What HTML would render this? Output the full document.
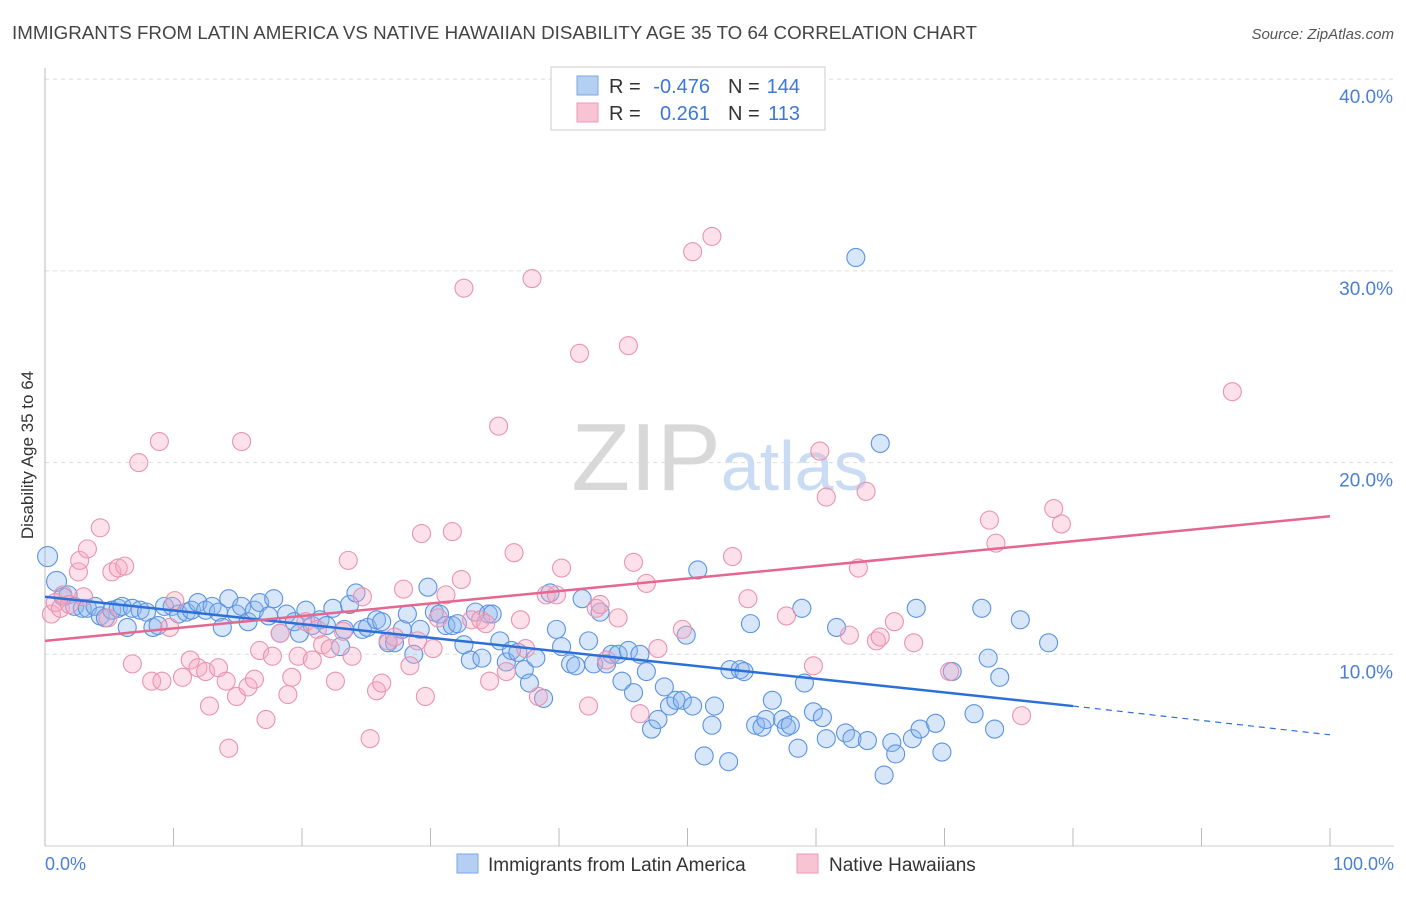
<!DOCTYPE html>
<html><head><meta charset="utf-8"><style>
body{margin:0;background:#fff;font-family:"Liberation Sans",sans-serif;}
svg text{font-family:"Liberation Sans",sans-serif;}
</style></head><body>
<svg id="chart" width="1406" height="892" viewBox="0 0 1406 892" xmlns="http://www.w3.org/2000/svg">
<text x="12" y="39" font-size="18" fill="#444" textLength="965" lengthAdjust="spacingAndGlyphs">IMMIGRANTS FROM LATIN AMERICA VS NATIVE HAWAIIAN DISABILITY AGE 35 TO 64 CORRELATION CHART</text>
<text x="1394" y="39" font-size="15" fill="#555" text-anchor="end" font-style="italic">Source: ZipAtlas.com</text>
<g id="grid"></g>
<text x="720" y="490" font-size="96" text-anchor="middle" fill="#ddd" font-family="Liberation Serif"><tspan fill="#d8d8d8">ZIP</tspan><tspan fill="#c9dcf3" font-family="Liberation Sans" font-size="70">atlas</tspan></text>
<line x1="45" y1="68" x2="45" y2="846" stroke="#bbb"/>
<line x1="45" y1="846" x2="1394" y2="846" stroke="#ccc"/>
<g id="ticks"></g>
<g id="pts"></g>
<g id="trends"></g>
<text transform="translate(33,455) rotate(-90)" font-size="17" fill="#333" text-anchor="middle">Disability Age 35 to 64</text>
<text x="45" y="870" font-size="18" fill="#4a7fd6">0.0%</text>
<text x="1394" y="870" font-size="18" fill="#4a7fd6" text-anchor="end">100.0%</text>
<g>
<rect x="551" y="67" width="274" height="63" fill="#fff" stroke="#ccc"/>
<rect x="577" y="76" width="21" height="19" fill="#b5cff3" stroke="#7aa6e4"/>
<rect x="577" y="103" width="21" height="19" fill="#f8c3d2" stroke="#ec9ab3"/>
<text x="609" y="93" font-size="20" fill="#333">R =</text>
<text x="710" y="93" font-size="20" fill="#3b78d8" text-anchor="end">-0.476</text>
<text x="728" y="93" font-size="20" fill="#333">N =</text>
<text x="800" y="93" font-size="20" fill="#3b78d8" text-anchor="end">144</text>
<text x="609" y="120" font-size="20" fill="#333">R =</text>
<text x="710" y="120" font-size="20" fill="#3b78d8" text-anchor="end">0.261</text>
<text x="728" y="120" font-size="20" fill="#333">N =</text>
<text x="800" y="120" font-size="20" fill="#3b78d8" text-anchor="end">113</text>
</g>
<g>
<rect x="457" y="854" width="21" height="19" fill="#b5cff3" stroke="#7aa6e4"/>
<text x="488" y="871" font-size="19" fill="#333">Immigrants from Latin America</text>
<rect x="797" y="854" width="21" height="19" fill="#f8c3d2" stroke="#ec9ab3"/>
<text x="829" y="871" font-size="19" fill="#333">Native Hawaiians</text>
</g>
</svg>
<script>
const yTicks=[10,20,30,40];
const yTickLabels=["10.0%","20.0%","30.0%","40.0%"];
const xTicks=[0,10,20,30,40,50,60,70,80,90,100];
const blueX=[0.2,0.9,1.4,1.8,2.3,2.9,3.3,3.9,4.3,4.7,5.2,5.7,6.0,6.4,6.8,7.4,7.9,8.4,8.8,9.3,9.9,10.4,11.0,11.4,11.9,12.5,13.0,13.5,13.8,14.3,14.9,15.3,15.8,16.3,16.7,17.4,17.8,18.3,18.8,19.4,19.8,20.3,20.8,21.4,21.9,22.4,23.0,23.3,23.7,24.2,24.7,25.1,25.8,26.2,26.7,27.2,27.8,28.2,28.7,29.2,29.8,30.3,30.7,31.2,31.7,32.1,32.6,33.1,33.5,34.0,34.5,34.8,35.4,35.9,36.3,36.8,37.3,37.7,38.2,38.8,39.3,39.8,40.2,40.9,41.3,41.8,42.3,42.7,43.2,43.7,44.1,44.6,44.9,45.4,45.8,46.3,46.8,47.2,47.7,48.2,48.6,49.1,49.6,49.9,50.4,50.8,51.3,51.9,52.1,53.2,53.3,54.1,54.4,54.9,55.3,55.8,56.1,56.6,57.4,57.7,58.0,58.6,58.9,59.1,59.8,60.5,60.8,61.6,62.3,62.8,63.1,64.0,65.0,65.3,65.9,66.2,67.5,67.8,68.1,69.3,69.8,70.6,72.3,72.9,73.4,73.9,74.3,75.9,78.1];
const blueY=[15.1,13.8,13.0,13.1,12.5,12.4,12.4,12.5,12.0,11.9,12.3,12.4,12.5,11.4,12.4,12.3,12.2,11.4,11.5,12.5,12.5,12.1,12.2,12.3,12.7,12.3,12.5,12.2,11.4,12.9,12.1,12.5,11.7,12.3,12.7,12.0,12.9,11.1,12.1,11.7,11.1,12.3,11.5,11.8,11.5,12.4,10.4,11.3,12.6,13.2,11.3,11.4,11.8,11.7,10.6,10.6,11.3,12.1,10.0,11.3,13.5,12.2,12.1,11.5,11.5,11.6,10.5,9.7,12.2,9.8,12.1,12.1,10.7,9.6,10.2,10.1,9.2,8.5,9.8,7.7,13.2,11.3,10.4,9.5,9.4,12.9,10.7,9.5,12.2,9.5,10.0,10.0,8.6,10.2,8.0,10.0,9.1,6.1,6.6,8.3,7.3,7.6,7.6,11.0,7.3,14.4,4.7,6.3,7.3,4.4,9.2,9.2,9.1,11.6,6.3,6.2,6.6,7.6,6.6,6.2,6.3,5.1,12.4,8.5,7.0,6.7,5.6,11.4,5.9,5.6,30.7,5.5,21.0,3.7,5.4,4.8,5.6,12.4,6.1,6.4,4.9,9.1,6.9,12.4,9.8,6.1,8.8,11.8,10.6];
const pinkX=[0.5,0.8,1.2,1.4,1.9,2.6,2.7,3.3,4.3,5.2,5.7,6.2,6.8,7.3,8.3,8.9,9.1,9.7,10.1,10.7,11.3,11.9,12.5,12.8,13.5,14.1,14.3,14.9,15.3,15.8,16.3,16.7,17.2,17.7,18.3,18.9,19.2,19.7,20.3,20.8,21.2,21.6,22.2,22.6,23.2,23.6,23.9,24.7,25.3,25.8,26.2,26.7,27.2,27.9,28.4,29.0,29.3,29.6,30.2,30.6,31.2,31.7,32.4,32.6,33.2,33.9,34.3,34.6,35.3,35.9,36.5,37.0,37.4,37.9,38.4,39.0,39.8,40.2,41.6,42.3,42.9,43.2,43.7,44.6,45.4,45.8,46.3,46.8,47.7,49.6,50.4,51.9,53.5,54.7,57.7,59.8,60.3,60.8,62.6,63.3,63.9,64.7,65.0,66.1,67.6,70.4,73.5,74.0,76.0,78.5,79.1,92.4,4.9,3.0];
const pinkY=[12.1,12.7,12.4,13.1,12.6,14.3,14.9,15.5,16.6,14.3,14.5,14.6,9.5,20.0,8.6,21.1,8.6,11.4,12.8,8.8,9.7,9.3,9.1,7.3,9.3,8.6,5.1,7.8,21.1,8.3,8.7,10.2,6.6,9.9,11.1,7.9,8.8,9.9,11.7,9.7,11.3,10.5,10.3,8.6,11.2,14.9,9.9,13.0,5.6,8.1,8.5,10.7,10.9,13.4,9.4,10.7,16.3,7.8,10.3,11.9,13.1,16.4,13.9,29.1,11.8,11.8,11.6,8.6,21.9,9.1,15.3,11.8,10.3,29.6,7.8,13.1,13.1,14.5,25.7,7.3,12.4,12.6,9.7,11.9,26.1,14.8,6.9,13.7,10.3,11.3,31.0,31.8,15.1,12.9,12.0,9.4,20.6,18.2,11.0,14.5,18.5,10.7,10.9,11.7,10.6,9.1,17.0,15.8,6.8,17.6,16.8,23.7,11.9,13.0];
const blueTrend=[13.0,7.3,5.8];
const blueTrendX=[0,80,100];
const pinkTrend=[10.7,17.2];
const pinkTrendX=[0,100];

const NS="http://www.w3.org/2000/svg";
const X=v=>45+v*12.85;
const Y=v=>846-v*19.17;
function mk(tag,attrs,parent){const e=document.createElementNS(NS,tag);for(const k in attrs)e.setAttribute(k,attrs[k]);parent.appendChild(e);return e;}
const grid=document.getElementById('grid');
yTicks.forEach((t,i)=>{
  const l=mk('line',{x1:45,x2:1394,y1:Y(t),y2:Y(t),stroke:'#ddd','stroke-dasharray':'4,4'},grid);
  
  
  const tx=mk('text',{x:1393,y:Y(t)+24,'font-size':19,fill:'#4a7fd6','text-anchor':'end'},grid);
  tx.textContent=yTickLabels[i];
  
  
});
const ticks=document.getElementById('ticks');
xTicks.forEach(t=>{
  const l=mk('line',{x1:X(t),x2:X(t),y1:828,y2:846,stroke:'#bbb'},ticks);
  
  
});
const pts=document.getElementById('pts');
blueX.forEach((x,i)=>{
  const c=mk('circle',{cx:X(x),cy:Y(blueY[i]),r:i<2?10:9,fill:'rgba(140,182,238,0.35)',stroke:'#5b93e0','stroke-width':1.1},pts);
  
  
});
pinkX.forEach((x,i)=>{
  const c=mk('circle',{cx:X(x),cy:Y(pinkY[i]),r:9,fill:'rgba(246,170,195,0.35)',stroke:'#e993b0','stroke-width':1.1},pts);
  
  
});
const tr=document.getElementById('trends');
const bl=mk('line',{x1:X(blueTrendX[0]),y1:Y(blueTrend[0]),x2:X(blueTrendX[1]),y2:Y(blueTrend[1]),stroke:'#2d6fd8','stroke-width':2.5},tr);


const bd=mk('line',{x1:X(blueTrendX[1]),y1:Y(blueTrend[1]),x2:X(blueTrendX[2]),y2:Y(blueTrend[2]),stroke:'#2d6fd8','stroke-width':1.2,'stroke-dasharray':'6,5'},tr);


const pl=mk('line',{x1:X(pinkTrendX[0]),y1:Y(pinkTrend[0]),x2:X(pinkTrendX[1]),y2:Y(pinkTrend[1]),stroke:'#e5668f','stroke-width':2.5},tr);


</script>
</body></html>
